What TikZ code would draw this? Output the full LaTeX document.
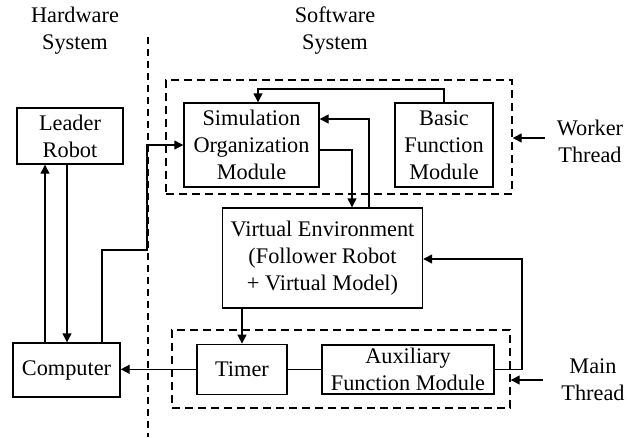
\documentclass[tikz,border=0pt]{standalone}
\usepackage{fontspec}
\setmainfont{Liberation Serif}
\usetikzlibrary{arrows.meta}
\begin{document}
\begin{tikzpicture}[x=1pt,y=-1pt,
  every node/.style={font=\fontsize{22.3}{27}\selectfont, inner sep=0pt},
  box/.style={draw, line width=1.4pt, align=center},
  label/.style={align=center},
  frame/.style={draw, line width=1.4pt, dash pattern=on 8pt off 5pt},
  arr/.style={line width=1.4pt, -{Triangle[length=9pt,width=9pt]}},
  ln/.style={line width=1.4pt}]
\useasboundingbox (0,0) rectangle (628,437);
% frames
\node[frame, minimum width=346pt, minimum height=114pt] (wbox) at (339,137) {};
\node[frame, minimum width=338pt, minimum height=78pt] (mbox) at (341,369) {};
\draw[line width=1.4pt, dash pattern=on 7pt off 5pt] (148,37) coordinate (dtop) -- (148,437) coordinate (dbot);
% titles
\node[label] (hw) at (75,31) {Hardware\\System};
\node[label] (sw) at (335,31) {Software\\System};
\node[label] (worker) at (590,141) {Worker\\Thread};
\node[label] (main) at (593,380) {Main\\Thread};
% boxes
\node[box, minimum width=106pt, minimum height=56pt] (leader) at (70,136) {Leader\\Robot};
\node[box, minimum width=107pt, minimum height=54pt] (computer) at (66.5,370) {Computer};
\node[box, minimum width=135pt, minimum height=84pt] (sim) at (251.5,145) {Simulation\\Organization\\Module};
\node[box, minimum width=98pt, minimum height=84pt] (basic) at (444,145) {Basic\\Function\\Module};
\node[box, minimum width=200pt, minimum height=100pt] (ve) at (322.5,258) {Virtual Environment\\(Follower Robot\\+ Virtual Model)};
\node[box, minimum width=90pt, minimum height=50pt] (timer) at (242,369.3) {Timer};
\node[box, minimum width=172pt, minimum height=49pt] (aux) at (408,369.3) {Auxiliary\\Function Module};
% helper coordinates
\coordinate (c45) at (45,0);
\coordinate (c67) at (67,0);
\coordinate (c102) at (102,250);
\coordinate (c147) at (147,250);
\coordinate (c444) at (444,89);
\coordinate (c258) at (258,89);
\coordinate (c369) at (369,119);
\coordinate (c352) at (352,150);
\coordinate (c242) at (242,0);
\coordinate (c522) at (522,259);
\coordinate (ws) at (545,138);
\coordinate (ms) at (543,380);
% connectors
\draw[arr] (computer.north -| c45) -- (leader.south -| c45);
\draw[arr] (leader.south -| c67) -- (computer.north -| c67);
\draw[arr] (computer.north -| c102) -- (c102) -- (c147) |- (sim.west);
\draw[arr] (basic.north -| c444) -- (c444) -- (c258) -- (sim.north -| c258);
\draw[arr] (ve.north -| c369) -- (c369) -- (sim.east |- c369);
\draw[arr] (sim.east |- c352) -- (c352) -- (ve.north -| c352);
\draw[arr] (ve.south -| c242) -- (timer.north -| c242);
\draw[arr] (timer.west) -- (computer.east |- timer.west);
\draw[ln] (timer.east) -- (aux.west);
\draw[arr] (aux.east) -| (c522) -- (ve.east |- c522);
\draw[arr] (ws) -- (ws -| wbox.east);
\draw[arr] (ms) -- (ms -| mbox.east);
\end{tikzpicture}
\end{document}
